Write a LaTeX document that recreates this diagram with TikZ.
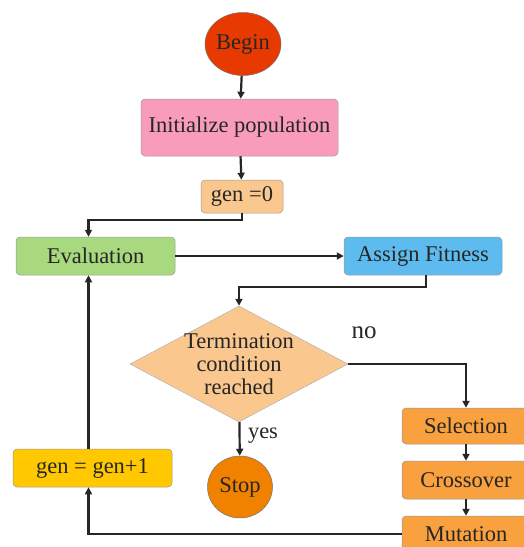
\documentclass[tikz,border=0pt]{standalone}
\usepackage{fontspec}
\setmainfont{Liberation Serif}
\newfontfamily\diagfont{Liberation Serif}
\usetikzlibrary{arrows.meta,shapes.geometric}
\definecolor{beginred}{HTML}{E83A00}
\definecolor{stoporange}{HTML}{F08200}
\definecolor{initpink}{HTML}{F99CBB}
\definecolor{peach}{HTML}{FAC88F}
\definecolor{evalgreen}{HTML}{A8D97E}
\definecolor{fitblue}{HTML}{5DBBF0}
\definecolor{genyellow}{HTML}{FFC800}
\definecolor{oporange}{HTML}{F9A03F}

\begin{document}
\begin{tikzpicture}
[x=1pt, y=-1pt, font=\diagfont\fontsize{22.5}{23}\selectfont, text=black!85,
startstop/.style={ellipse, draw=black!55, line width=0.5pt, inner sep=0pt},
process/.style={rectangle, rounded corners=4pt, draw=black!40, line width=0.5pt, inner sep=0pt},
decision/.style={diamond, aspect=1.88, draw=black!30, line width=0.5pt, inner sep=-2pt, align=center},
flow/.style={draw=black!85, line width=2.2pt, -{Triangle[length=7pt,width=7pt]}}]

\useasboundingbox (0,0) rectangle (524,547);
\clip (0,0) rectangle (524,547);

\node[startstop, fill=beginred, minimum width=71, minimum height=63] (begin) at (243,44) {Begin};
\node[process, fill=initpink, minimum width=197, minimum height=57] (init) at (239.5,127.5) {Initialize population};
\node[process, fill=peach, minimum width=82, minimum height=33] (gen0) at (242,196.5) {gen =0};

\node[process, fill=evalgreen, minimum width=159, minimum height=38] (eval) at (95.5,256) {Evaluation};
\node[process, fill=fitblue, minimum width=158, minimum height=38] (fit) at (423,256) {Assign Fitness};

\node[decision, fill=peach, minimum width=218, minimum height=116] (term) at (239,364) {Termination\\condition\\reached};
\node[startstop, fill=stoporange, minimum width=65, minimum height=62] (stop) at (240,487) {Stop};

\node[process, fill=genyellow, minimum width=159, minimum height=38] (gen1) at (92.5,468) {gen = gen+1};

\node[process, fill=oporange, minimum width=128, minimum height=36] (sel) at (466,426) {Selection};
\node[process, fill=oporange, minimum width=128, minimum height=38] (cross) at (466,480) {Crossover};
\node[process, fill=oporange, minimum width=128, minimum height=36] (mut) at (466,534) {Mutation};

\coordinate (loop) at (88.5,0);

\draw[flow] (begin) -- (init);
\draw[flow] (init) -- (gen0);
\draw[flow] (gen0.south) -- ++(0,7) -| (eval.north -| loop);
\draw[flow] (eval) -- (fit);
\draw[flow] ([xshift=3pt]fit.south) -- ++(0,12) -| (term.north);
\draw[flow] (term.east) -| (sel.north);
\draw[flow] (term) -- (stop);
\draw[flow] (sel) -- (cross);
\draw[flow] (cross) -- (mut);
\draw[flow] (mut.west) -| (gen1.south -| loop);
\draw[flow] (gen1.north -| loop) -- (eval.south -| loop);

\node (yes) at (263,436) {yes};
\node[font=\diagfont\fontsize{25}{26}\selectfont] (no) at (364,333) {no};
\end{tikzpicture}
\end{document}
